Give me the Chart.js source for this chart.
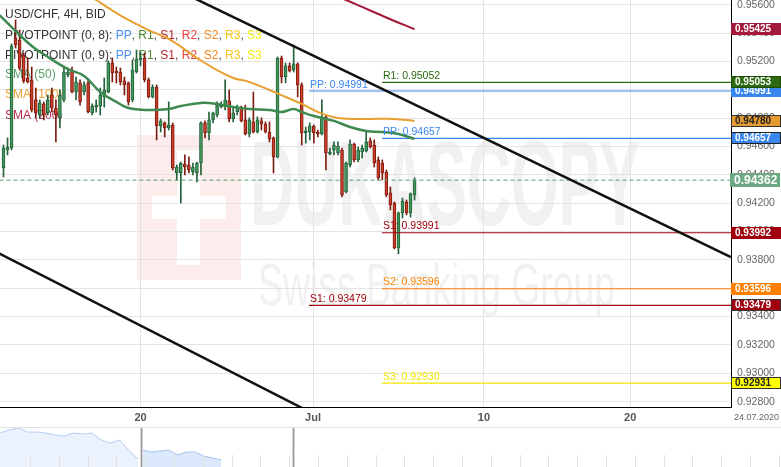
<!DOCTYPE html>
<html>
<head>
<meta charset="utf-8">
<script src="https://cdn.jsdelivr.net/npm/chart.js@4.4.0/dist/chart.umd.min.js"></script>
<style>
  html, body { margin: 0; padding: 0; background: #fff; overflow: hidden; }
  canvas { display: block; }
</style>
</head>
<body>
<canvas id="priceChart" width="781" height="427"></canvas>
<canvas id="navChart" width="781" height="40"></canvas>
<script>
// USD/CHF 4H candles
const openPrices = [0.94448,0.94575,0.94589,0.95365,0.95351,0.95245,0.95083,0.95069,0.94928,0.94822,
  0.94900,0.94836,0.94963,0.94871,0.94801,0.94928,0.95104,0.95139,0.94984,0.95048,
  0.94984,0.95048,0.94836,0.94878,0.94885,0.94949,0.94984,0.95189,0.95132,0.95125,
  0.95062,0.95048,0.94928,0.95125,0.95210,0.95224,0.95069,0.94949,0.95019,0.94744,
  0.94766,0.94730,0.94751,0.94413,0.94413,0.94476,0.94469,0.94420,0.94413,0.94483,
  0.94766,0.94695,0.94787,0.94822,0.94878,0.94878,0.94921,0.94794,0.94843,0.94878,
  0.94787,0.94688,0.94773,0.94702,0.94780,0.94758,0.94702,0.94660,0.94526,0.95224,
  0.95090,0.95168,0.95139,0.95182,0.95034,0.94695,0.94702,0.94744,0.94702,0.94688,
  0.94808,0.94547,0.94575,0.94554,0.94575,0.94279,0.94469,0.94617,0.94505,0.94561,
  0.94568,0.94639,0.94610,0.94505,0.94483,0.94420,0.94272,0.94201,0.93884,0.94131,
  0.94208,0.94131,0.94258];
const highPrices = [0.94610,0.94660,0.95323,0.95492,0.95421,0.95259,0.95224,0.95160,0.95012,0.94928,
  0.94914,0.94963,0.95012,0.94928,0.94998,0.95153,0.95153,0.95160,0.95090,0.95069,
  0.95055,0.95069,0.94900,0.94928,0.95012,0.95083,0.95203,0.95224,0.95160,0.95153,
  0.95090,0.95055,0.95210,0.95280,0.95266,0.95259,0.95083,0.95034,0.95034,0.94794,
  0.94773,0.94914,0.94766,0.94469,0.94490,0.94540,0.94526,0.94483,0.94490,0.94773,
  0.94780,0.94843,0.94843,0.94914,0.94914,0.95069,0.94998,0.94878,0.94892,0.94885,
  0.94892,0.94801,0.94984,0.94808,0.94801,0.94773,0.94773,0.94667,0.95231,0.95238,
  0.95189,0.95189,0.95316,0.95189,0.95048,0.94737,0.94766,0.94751,0.94716,0.94928,
  0.94822,0.94589,0.94632,0.94632,0.94589,0.94490,0.94646,0.94624,0.94596,0.94610,
  0.94702,0.94660,0.94646,0.94526,0.94505,0.94434,0.94314,0.94208,0.94138,0.94236,
  0.94222,0.94272,0.94378];
const lowPrices = [0.94385,0.94540,0.94575,0.95294,0.95139,0.95048,0.95048,0.94843,0.94801,0.94801,
  0.94787,0.94822,0.94843,0.94632,0.94730,0.94914,0.95090,0.94977,0.94928,0.94892,
  0.94963,0.94836,0.94822,0.94843,0.94822,0.94878,0.94977,0.95055,0.95048,0.95034,
  0.94963,0.94892,0.94914,0.95118,0.95168,0.95055,0.94942,0.94942,0.94646,0.94702,
  0.94667,0.94716,0.94434,0.94364,0.94201,0.94399,0.94413,0.94399,0.94349,0.94399,
  0.94660,0.94646,0.94766,0.94808,0.94871,0.94857,0.94773,0.94773,0.94822,0.94773,
  0.94681,0.94667,0.94695,0.94695,0.94716,0.94695,0.94632,0.94413,0.94519,0.95048,
  0.95048,0.95125,0.95125,0.94949,0.94610,0.94624,0.94646,0.94624,0.94667,0.94681,
  0.94434,0.94540,0.94540,0.94540,0.94244,0.94272,0.94455,0.94490,0.94490,0.94519,
  0.94561,0.94589,0.94455,0.94364,0.94364,0.94244,0.94152,0.93877,0.93842,0.94095,
  0.94117,0.94102,0.94222];
const closePrices = [0.94589,0.94596,0.95309,0.95316,0.95153,0.95062,0.95055,0.94857,0.94836,0.94907,
  0.94822,0.94928,0.94871,0.94822,0.94963,0.95125,0.95125,0.94984,0.95055,0.94914,
  0.95034,0.94843,0.94885,0.94892,0.94963,0.94998,0.95189,0.95118,0.95118,0.95055,
  0.95034,0.94914,0.95139,0.95217,0.95224,0.95069,0.94949,0.95019,0.94744,0.94780,
  0.94730,0.94751,0.94448,0.94455,0.94483,0.94455,0.94434,0.94455,0.94483,0.94766,
  0.94695,0.94787,0.94836,0.94892,0.94892,0.94928,0.94794,0.94836,0.94878,0.94780,
  0.94688,0.94787,0.94702,0.94787,0.94758,0.94702,0.94653,0.94526,0.95224,0.95090,
  0.95168,0.95132,0.95182,0.95034,0.94695,0.94709,0.94744,0.94695,0.94688,0.94808,
  0.94554,0.94561,0.94610,0.94603,0.94258,0.94483,0.94617,0.94505,0.94575,0.94589,
  0.94632,0.94596,0.94483,0.94378,0.94413,0.94258,0.94187,0.93884,0.94131,0.94215,
  0.94131,0.94265,0.94362];

// moving averages, sampled at some candle indexes
const sma50Idx = [-1,3,7,11,16,20,24,28,31,36,41,44,49,53,57,61,66,69,72,74,77,82,86,90,94,98,102];
const sma50Values = [0.95527,0.95414,0.95309,0.95231,0.95146,0.95097,0.94984,0.94914,0.94871,0.94857,
  0.94864,0.94885,0.94907,0.94900,0.94878,0.94864,0.94857,0.94843,0.94864,0.94843,
  0.94815,0.94780,0.94737,0.94709,0.94702,0.94688,0.94653];
const sma100Idx = [-1,20,23,26,31,36,41,48,53,57,61,66,70,74,78,83,90,97,102];
const sma100Values = [0.96035,0.95675,0.95633,0.95577,0.95492,0.95421,0.95358,0.95224,0.95139,0.95083,
  0.95055,0.94998,0.94949,0.94900,0.94843,0.94801,0.94794,0.94794,0.94780];
const sma200Idx = [80,85,89,93,97,102];
const sma200Values = [0.95689,0.95633,0.95584,0.95534,0.95485,0.95428];

// channel lines
const upperTrendIdx = [30, 180.5];
const upperTrend = [0.95883, 0.93820];
const lowerTrendIdx = [-1, 80];
const lowerTrend = [0.93844, 0.92669];

// pivot points: name, level, candle index where the period starts
const pivotNames = ['R1', 'PP', 'PP', 'S1', 'S2', 'S1', 'S3'];
const pivotValues = [0.95052, 0.94991, 0.94657, 0.93991, 0.93596, 0.93479, 0.92930];
const pivotStart = [93.9, 75.8, 93.9, 93.9, 93.9, 75.8, 93.9];
const pivotColors = ['#2b6a10', '#3a86ef', '#3a86ef', '#a1000f', '#ff8000', '#a1000f', '#f2e600'];

const lastPrice = 0.94362;

// axis
const tickIdx = [34.0, 76.8, 119.2, 155.5];
const tickLabels = ['20', 'Jul', '10', '20'];
const axisEndLabel = '24.07.2020';

// price tags on the right axis (later ones sit on top)
const badgeValues = [0.95425, 0.94991, 0.95053, 0.94780, 0.94657, 0.94362, 0.93992, 0.93596, 0.93479, 0.92931];
const badgeFill = ['#a3193b', '#3a86ef', '#2b6a10', '#e59b2f', '#3a86ef', '#6ea984', '#a1000f', '#ff8000', '#a1000f', '#ffff00'];
const badgeInk = ['#fff', '#fff', '#fff', '#222', '#fff', '#fff', '#fff', '#fff', '#fff', '#222'];
const badgeEdge = [null, null, '#1d4a08', '#333', '#222', null, null, null, '#333', '#333'];

// navigator series
const navBefore = [0.959,0.962,0.964,0.960,0.960,0.959,0.957,0.956,0.959,0.958,0.959,0.952,0.949,0.952,0.942,0.933];
const navInside = [0.942,0.940,0.941,0.942,0.937,0.940,0.940,0.936,0.934,0.932];

const FONT = "Arial, 'Liberation Sans', sans-serif";
Chart.defaults.font.family = FONT;

const up = closePrices.map((c, i) => c >= openPrices[i]);
const pts = (xs, ys) => xs.map((x, i) => ({ x: x, y: ys[i] }));

const legendLines = [
  [['USD/CHF, 4H, BID', '#333']],
  [['PIVOTPOINT (0, 8): ', '#333'], ['PP', '#4a8ff2'], [', ', '#555'], ['R1', '#4b8a2e'], [', ', '#555'], ['S1', '#b3262e'], [', ', '#555'],
   ['R2', '#f03c3c'], [', ', '#555'], ['S2', '#f5851f'], [', ', '#555'], ['R3', '#f5c518'], [', ', '#555'], ['S3', '#f2ef1b']],
  [['PIVOTPOINT (0, 9): ', '#333'], ['PP', '#4a8ff2'], [', ', '#555'], ['R1', '#4b8a2e'], [', ', '#555'], ['S1', '#b3262e'], [', ', '#555'],
   ['R2', '#f03c3c'], [', ', '#555'], ['S2', '#f5851f'], [', ', '#555'], ['R3', '#f5c518'], [', ', '#555'], ['S3', '#f2ef1b']],
  [['SMA (50)', '#559e68']],
  [['SMA (100)', '#e8a033']],
  [['SMA (200)', '#b5294d']]
];

const backdrop = {
  id: 'backdrop',
  beforeDraw(chart) {
    const ctx = chart.ctx;
    ctx.save();
    ctx.fillStyle = '#fff';
    ctx.fillRect(0, 0, chart.width, chart.height);

    // watermark logo
    ctx.fillStyle = '#fcecec';
    ctx.fillRect(137, 135, 104, 145);
    ctx.fillStyle = '#fff';
    ctx.fillRect(177, 150, 23, 115);
    ctx.fillRect(152, 196, 74, 23);

    ctx.fillStyle = '#f1f1f1';
    ctx.textBaseline = 'alphabetic';
    ctx.font = 'bold 120px ' + FONT;
    let w = ctx.measureText('DUKASCOPY').width;
    ctx.save();
    ctx.translate(250, 225);
    ctx.scale(390 / w, 1);
    ctx.fillText('DUKASCOPY', 0, 0);
    ctx.restore();

    ctx.font = '60px ' + FONT;
    w = ctx.measureText('Swiss Banking Group').width;
    ctx.save();
    ctx.translate(258, 305);
    ctx.scale(357 / w, 1);
    ctx.fillText('Swiss Banking Group', 0, 0);
    ctx.restore();
    ctx.restore();
  },
  beforeDatasetsDraw(chart) {
    const ctx = chart.ctx;
    ctx.save();
    ctx.font = '12px ' + FONT;
    ctx.textBaseline = 'middle';
    const rows = [15, 35.5, 56, 75, 95, 116];
    legendLines.forEach((parts, r) => {
      let x = 5;
      parts.forEach(p => {
        ctx.fillStyle = p[1];
        ctx.fillText(p[0], x, rows[r]);
        x += ctx.measureText(p[0]).width;
      });
    });
    ctx.restore();
  },
  afterDatasetsDraw(chart) {
    const ctx = chart.ctx;
    const xs = chart.scales.x, ys = chart.scales.y;
    ctx.save();
    ctx.font = '10.5px ' + FONT;
    ctx.textBaseline = 'bottom';
    pivotValues.forEach((v, k) => {
      ctx.fillStyle = pivotColors[k];
      ctx.fillText(pivotNames[k] + ': ' + v.toFixed(5), xs.getPixelForValue(pivotStart[k]) + 1, ys.getPixelForValue(v) - 1);
    });
    ctx.restore();
  },
  afterDraw(chart) {
    const ctx = chart.ctx;
    const ys = chart.scales.y;
    const left = chart.chartArea.right;
    ctx.save();
    ctx.textBaseline = 'middle';
    badgeValues.forEach((v, k) => {
      const big = v === lastPrice;
      const h = big ? 14 : 12;
      const yc = Math.round(ys.getPixelForValue(v));
      const x0 = big ? left - 1 : left;
      ctx.fillStyle = badgeFill[k];
      ctx.fillRect(x0, yc - h / 2, 50, h);
      if (badgeEdge[k]) {
        ctx.strokeStyle = badgeEdge[k];
        ctx.lineWidth = 1;
        ctx.strokeRect(x0 + 0.5, yc - h / 2 + 0.5, 49, h - 1);
      }
      ctx.fillStyle = badgeInk[k];
      ctx.font = (big ? 'bold 12px ' : 'bold 10px ') + FONT;
      ctx.fillText(v.toFixed(5), x0 + 4, yc + 0.5);
    });
    ctx.fillStyle = '#666';
    ctx.font = '9px ' + FONT;
    ctx.textAlign = 'right';
    ctx.fillText(axisEndLabel, chart.width - 2, chart.chartArea.bottom + 11);
    ctx.restore();
  }
};

new Chart(document.getElementById('priceChart'), {
  type: 'bar',
  data: {
    datasets: [
      {
        type: 'line', label: 'upper', data: pts(upperTrendIdx, upperTrend),
        borderColor: '#111', borderWidth: 2.5, pointRadius: 0, order: 0
      },
      {
        type: 'line', label: 'lower', data: pts(lowerTrendIdx, lowerTrend),
        borderColor: '#111', borderWidth: 2.5, pointRadius: 0, order: 0
      },
      {
        type: 'line', label: 'SMA (50)', data: pts(sma50Idx, sma50Values),
        borderColor: '#3f8a50', borderWidth: 2.5, pointRadius: 0, tension: 0.4, order: 1
      },
      {
        type: 'line', label: 'SMA (100)', data: pts(sma100Idx, sma100Values),
        borderColor: '#e8a033', borderWidth: 2, pointRadius: 0, tension: 0.4, order: 1
      },
      {
        type: 'line', label: 'SMA (200)', data: pts(sma200Idx, sma200Values),
        borderColor: '#a3193b', borderWidth: 2, pointRadius: 0, tension: 0.4, order: 1
      },
      ...pivotValues.map((v, k) => ({
        type: 'line', label: pivotNames[k], data: [{ x: pivotStart[k], y: v }, { x: 181, y: v }],
        borderColor: pivotColors[k], borderWidth: 1.2, pointRadius: 0, order: 2
      })),
      {
        type: 'line', label: 'last', data: [{ x: -1, y: lastPrice }, { x: 181, y: lastPrice }],
        borderColor: '#5a9c6c', borderWidth: 1, borderDash: [4, 3], pointRadius: 0, order: 3
      },
      {
        label: 'body',
        data: openPrices.map((o, i) => ({ x: i, y: [o, closePrices[i]] })),
        backgroundColor: up.map(u => u ? '#419a5a' : '#cf3d28'),
        borderColor: up.map(u => u ? '#24603a' : '#7a1c10'),
        borderWidth: 1, borderSkipped: false, barThickness: 3, minBarLength: 1,
        grouped: false, order: 4
      },
      {
        label: 'wick',
        data: lowPrices.map((l, i) => ({ x: i, y: [l, highPrices[i]] })),
        backgroundColor: up.map(u => u ? '#24603a' : '#7a1c10'),
        borderWidth: 0, barThickness: 1, grouped: false, order: 5
      }
    ]
  },
  options: {
    responsive: false,
    animation: false,
    devicePixelRatio: 1,
    layout: { padding: 0 },
    plugins: { legend: { display: false }, tooltip: { enabled: false } },
    scales: {
      x: {
        type: 'linear', min: -0.868, max: 180.52, offset: false,
        grid: { color: '#e4e4e4', drawTicks: false, offset: false },
        border: { display: true, color: '#000', width: 1 },
        afterBuildTicks: axis => { axis.ticks = tickIdx.map(v => ({ value: v })); },
        afterFit: axis => {
          axis.height = 20;
          axis.paddingLeft = 0;
          axis.paddingRight = 0;
        },
        ticks: {
          autoSkip: false, maxRotation: 0, padding: 4, color: '#555',
          font: { size: 11, weight: 'bold' },
          callback: v => tickLabels[tickIdx.indexOf(v)]
        }
      },
      y: {
        position: 'right', min: 0.92762, max: 0.95633,
        grid: { color: '#e4e4e4', drawTicks: false },
        border: { display: true, color: '#000', width: 1 },
        afterFit: axis => {
          axis.width = 50;
          axis.paddingTop = 0;
          axis.paddingBottom = 0;
        },
        ticks: {
          stepSize: 0.002, includeBounds: false, padding: 6, color: '#666',
          font: { size: 10.5 },
          callback: v => v.toFixed(5)
        }
      }
    }
  },
  plugins: [backdrop]
});

// navigator strip under the chart
const navFrame = {
  id: 'navFrame',
  afterDraw(chart) {
    const ctx = chart.ctx;
    const xs = chart.scales.x;
    ctx.save();
    ctx.strokeStyle = '#e2e2e2';
    ctx.lineWidth = 1;
    ctx.beginPath();
    ctx.moveTo(0, 0.5); ctx.lineTo(chart.width, 0.5);
    for (let px = 30; px < chart.width; px += 28.8) {
      ctx.moveTo(Math.round(px) + 0.5, 28); ctx.lineTo(Math.round(px) + 0.5, 40);
    }
    ctx.stroke();
    [15.33, 31.85].forEach(v => {
      const px = Math.round(xs.getPixelForValue(v));
      ctx.fillStyle = '#d6d6d6';
      ctx.fillRect(px - 1, 1, 3, 39);
      ctx.fillStyle = '#9a9a9a';
      ctx.fillRect(px, 1, 1, 39);
    });
    ctx.restore();
  }
};

new Chart(document.getElementById('navChart'), {
  type: 'line',
  data: {
    datasets: [
      {
        data: navBefore.map((v, i) => ({ x: i, y: v })),
        borderColor: '#b3cdf3', borderWidth: 1, backgroundColor: '#ebf2fd',
        fill: 'start', pointRadius: 0
      },
      {
        data: navInside.map((v, i) => ({ x: 15.5 + i * 0.95, y: v })),
        borderColor: '#a5c3ef', borderWidth: 1, backgroundColor: '#dce8fb',
        fill: 'start', pointRadius: 0
      }
    ]
  },
  options: {
    responsive: false,
    animation: false,
    devicePixelRatio: 1,
    layout: { padding: 0 },
    plugins: { legend: { display: false }, tooltip: { enabled: false } },
    scales: {
      x: { type: 'linear', min: 0, max: 84.9, display: false },
      y: { min: 0.925, max: 0.965, display: false }
    }
  },
  plugins: [navFrame]
});
</script>
</body>
</html>
